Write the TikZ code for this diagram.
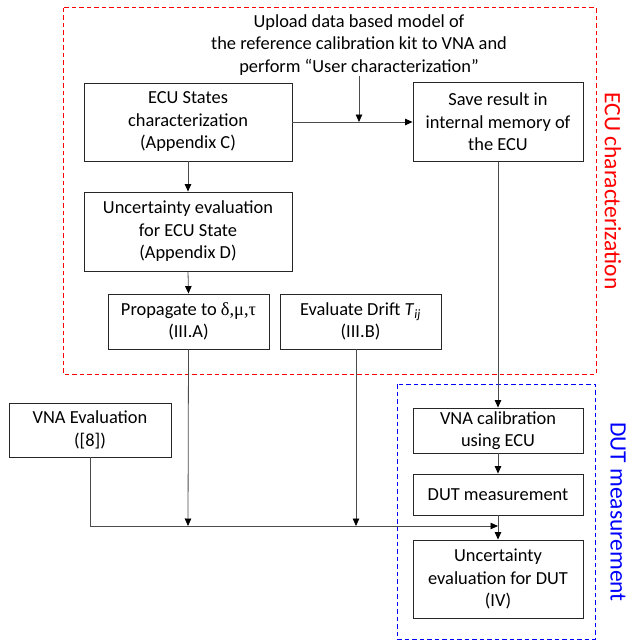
\documentclass[tikz,border=0pt]{standalone}
\usepackage{fontspec}
\setmainfont{Carlito}
\newfontfamily\grk{Liberation Serif}
\usetikzlibrary{arrows.meta,calc}
\begin{document}
\begin{tikzpicture}[x=1pt,y=-1pt,
  box/.style={draw=black!85,line width=0.9pt,inner sep=0pt,align=center,
    font=\fontsize{18.4}{22.5}\selectfont},
  conn/.style={draw=black!70,line width=0.8pt},
  arr/.style={conn,-{Triangle[length=7.5pt,width=6.5pt,color=black]}},
  frame/.style={line width=1pt,dash pattern=on 4.5pt off 3pt},
  side/.style={rotate=-90,inner sep=0pt,font=\fontsize{23.5}{28}\selectfont}
]
\useasboundingbox (0,0) rectangle (627,642);
% frames
\draw[frame,draw=red] (63,8) rectangle (596,374);
\draw[frame,draw=blue] (397,384) rectangle (595,639);
\node[side,text=red] (labecu) at (613,191) {ECU characterization};
\node[side,text=blue] (labdut) at (618,512) {DUT measurement};
% nodes
\node[inner sep=0pt,align=center,font=\fontsize{18.4}{22.5}\selectfont] (top) at (359,45)
  {Upload data based model of\\the reference calibration kit to VNA and\\perform “User characterization”};
\node[box,minimum width=208pt,minimum height=78pt] (ecu) at (188,122)
  {ECU States\\characterization\\(Appendix C)};
\node[box,minimum width=170pt,minimum height=79pt] (save) at (498,122)
  {Save result in\\internal memory of\\the ECU};
\node[box,minimum width=208pt,minimum height=79pt] (unc) at (188,231.5)
  {Uncertainty evaluation\\for ECU State\\(Appendix D)};
\node[box,minimum width=161pt,minimum height=55pt] (prop) at (188.5,321.5)
  {Propagate to {\grk δ,μ,τ}\\(III.A)};
\node[box,minimum width=161pt,minimum height=55pt] (drift) at (360.5,321.5)
  {Evaluate Drift \textit{T}\textsubscript{\textit{ij}}\\(III.B)};
\node[box,minimum width=162pt,minimum height=54pt] (vnae) at (90,430)
  {VNA Evaluation\\([8])};
\node[box,minimum width=170pt,minimum height=45pt] (cal) at (498,430.5)
  {VNA calibration\\using ECU};
\node[box,minimum width=170pt,minimum height=41pt] (dut) at (498,494.5)
  {DUT measurement};
\node[box,minimum width=170pt,minimum height=78pt] (uncd) at (498,579)
  {Uncertainty\\evaluation for DUT\\(IV)};
% junction coordinates
\coordinate (j1) at (359,122);
\coordinate (j2) at (188,526);
\coordinate (j3) at (356,526);
\coordinate (j4) at (498,526);
% connectors
\draw[arr] (ecu.east) -- (save.west);
\draw[arr] (top.south -| j1) -- (j1);
\draw[arr] (ecu.south) -- (unc.north);
\draw[arr] (unc.south) -- (prop.north);
\draw[arr] (save.south) -- (cal.north);
\draw[arr] (prop.south) -- (j2);
\draw[arr] (drift.south -| j3) -- (j3);
\draw[arr] (vnae.south) |- (j4);
\draw[arr] (cal.south) -- (dut.north);
\draw[arr] (dut.south) -- (uncd.north);
\end{tikzpicture}
\end{document}
